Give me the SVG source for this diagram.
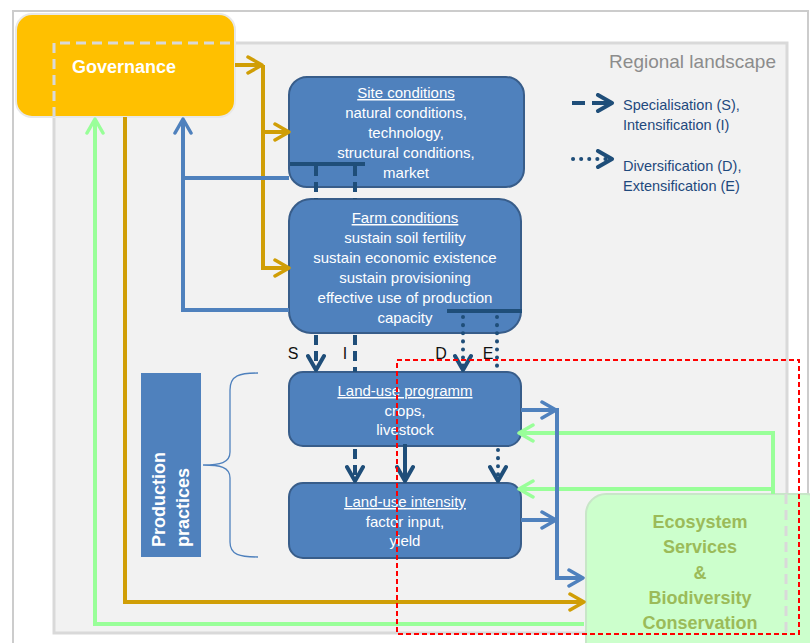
<svg xmlns="http://www.w3.org/2000/svg" width="810" height="643" viewBox="0 0 810 643">
<style>
.gold{stroke:#d09e06;stroke-width:4;fill:none}
.blue{stroke:#4f81bd;stroke-width:4;fill:none}
.green{stroke:#99ff99;stroke-width:4;fill:none}
.navy{stroke:#1f4e79;stroke-width:4;fill:none}
.dash{stroke-dasharray:10 6}
.dot{stroke-dasharray:0.1 8;stroke-linecap:round}
.box{fill:#4f81bd;stroke:#385d8a;stroke-width:2}
.bt{font-family:"Liberation Sans",Arial,sans-serif;font-size:15px;fill:#ffffff;text-anchor:middle}
.u{text-decoration:underline}
.lg{font-family:"Liberation Sans",Arial,sans-serif;font-size:14.5px;fill:#1f497d}
.lab{font-family:"Liberation Sans",Arial,sans-serif;font-size:16px;fill:#111111;text-anchor:middle}
.eco{font-family:"Liberation Sans",Arial,sans-serif;font-size:18px;font-weight:bold;fill:#9bbb59;text-anchor:middle}
.lsd{stroke:#d9d9d9;stroke-width:3;fill:none;stroke-dasharray:10 6}
</style>
<defs>
<marker id="aG" viewBox="0 0 20 20" refX="17" refY="10" markerWidth="20" markerHeight="20" markerUnits="userSpaceOnUse" orient="auto"><path d="M3,2 L17,10 L3,18" fill="none" stroke="#d09e06" stroke-width="3.5" stroke-linecap="round" stroke-linejoin="round"/></marker>
<marker id="aB" viewBox="0 0 20 20" refX="17" refY="10" markerWidth="20" markerHeight="20" markerUnits="userSpaceOnUse" orient="auto"><path d="M3,2 L17,10 L3,18" fill="none" stroke="#4f81bd" stroke-width="3.5" stroke-linecap="round" stroke-linejoin="round"/></marker>
<marker id="aGr" viewBox="0 0 20 20" refX="17" refY="10" markerWidth="20" markerHeight="20" markerUnits="userSpaceOnUse" orient="auto"><path d="M3,2 L17,10 L3,18" fill="none" stroke="#99ff99" stroke-width="3.5" stroke-linecap="round" stroke-linejoin="round"/></marker>
<marker id="aN" viewBox="0 0 20 20" refX="17" refY="10" markerWidth="20" markerHeight="20" markerUnits="userSpaceOnUse" orient="auto"><path d="M3,2 L17,10 L3,18" fill="none" stroke="#1f4e79" stroke-width="4" stroke-linecap="round" stroke-linejoin="round"/></marker>
</defs>
<rect x="0" y="0" width="810" height="643" fill="#ffffff"/>
<rect x="13" y="11" width="795" height="660" fill="#ffffff" stroke="#cccccc" stroke-width="2"/>
<g id="landscape">
<rect x="54" y="43" width="733" height="590" fill="#f2f2f2" stroke="#d9d9d9" stroke-width="3"/>
<text x="776" y="68" font-family="'Liberation Sans',Arial,sans-serif" font-size="19" fill="#8c8c8c" text-anchor="end">Regional landscape</text>
</g>
<g id="governance">
<rect x="16" y="14" width="219" height="103" rx="16" fill="#ffc000" stroke="#e8e8e8" stroke-width="2"/>
<path class="lsd" d="M54,117 V43 H235"/>
<text x="72" y="73" font-family="'Liberation Sans',Arial,sans-serif" font-size="18" font-weight="bold" fill="#ffffff">Governance</text>
</g>
<g id="site">
<rect class="box" x="289" y="77" width="235" height="110" rx="18"/>
<text class="bt u" x="406" y="98">Site conditions</text>
<text class="bt" x="406" y="118">natural conditions,</text>
<text class="bt" x="406" y="138">technology,</text>
<text class="bt" x="406" y="158">structural conditions,</text>
<text class="bt" x="406" y="178">market</text>
</g>
<g id="farm">
<rect class="box" x="289" y="199" width="232" height="134" rx="22"/>
<text class="bt u" x="405" y="223">Farm conditions</text>
<text class="bt" x="405" y="243">sustain soil fertility</text>
<text class="bt" x="405" y="263">sustain economic existence</text>
<text class="bt" x="405" y="283">sustain provisioning</text>
<text class="bt" x="405" y="303">effective use of production</text>
<text class="bt" x="405" y="323">capacity</text>
</g>
<g id="programm">
<rect class="box" x="289" y="372" width="232" height="74" rx="14"/>
<text class="bt u" x="405" y="396">Land-use programm</text>
<text class="bt" x="405" y="416">crops,</text>
<text class="bt" x="405" y="435">livestock</text>
</g>
<g id="intensity">
<rect class="box" x="289" y="483" width="232" height="75" rx="14"/>
<text class="bt u" x="405" y="507">Land-use intensity</text>
<text class="bt" x="405" y="527">factor input,</text>
<text class="bt" x="405" y="546">yield</text>
</g>
<g id="practices">
<rect x="141" y="373" width="60" height="184" fill="#4f81bd"/>
<text transform="translate(165,547) rotate(-90)" font-family="'Liberation Sans',Arial,sans-serif" font-size="18" font-weight="bold" fill="#ffffff">Production</text>
<text transform="translate(189,547) rotate(-90)" font-family="'Liberation Sans',Arial,sans-serif" font-size="18" font-weight="bold" fill="#ffffff">practices</text>
<path d="M258,373 C240,373 230,375 230,390 L230,452 C230,463 220,465 203,465 C220,465 230,467 230,478 L230,542 C230,555 240,557 258,557" fill="none" stroke="#4f81bd" stroke-width="1.3"/>
</g>
<g id="ecosystem">
<rect x="586" y="494" width="240" height="170" rx="20" fill="#ccffcc" stroke="#c8e6c8" stroke-width="2"/>
<path class="lsd" d="M786,494 V633"/>
<text class="eco" x="700" y="528">Ecosystem</text>
<text class="eco" x="700" y="553">Services</text>
<text class="eco" x="700" y="579">&amp;</text>
<text class="eco" x="700" y="604">Biodiversity</text>
<text class="eco" x="700" y="629">Conservation</text>
</g>
<g id="legend">
<path class="navy" d="M572,103 H585"/>
<path class="navy" d="M592,103 H612" marker-end="url(#aN)"/>
<text class="lg" x="623" y="110">Specialisation (S),</text>
<text class="lg" x="623" y="130">Intensification (I)</text>
<path class="navy dot" d="M573,159 H612" marker-end="url(#aN)"/>
<text class="lg" x="623" y="171">Diversification (D),</text>
<text class="lg" x="623" y="191">Extensification (E)</text>
</g>
<g id="connectors">
<path class="gold" d="M235,65 H262" marker-end="url(#aG)"/>
<path class="gold" d="M263,65 V268 H289" marker-end="url(#aG)"/>
<path class="gold" d="M263,132 H289" marker-end="url(#aG)"/>
<path class="gold" d="M125,117 V602 H584" marker-end="url(#aG)"/>
<path class="green" d="M584,624 H95 V119" marker-end="url(#aGr)"/>
<path class="green" d="M773,494 V433 H519" marker-end="url(#aGr)"/>
<path class="green" d="M773,489 H519" marker-end="url(#aGr)"/>
<path class="blue" d="M289,310 H183 V119" marker-end="url(#aB)"/>
<path class="blue" d="M183,178 H289"/>
<path class="blue" d="M521,410 H556" marker-end="url(#aB)"/>
<path class="blue" d="M521,520 H556" marker-end="url(#aB)"/>
<path class="blue" d="M557,408 V578 H583" marker-end="url(#aB)"/>
<path class="navy" d="M290,164 H365" stroke-width="3"/>
<path class="navy dash" d="M316,166 V199"/>
<path class="navy dash" d="M355,166 V199"/>
<path class="navy dash" d="M316,335 V370" marker-end="url(#aN)"/>
<path class="navy dash" d="M355,335 V372"/>
<path class="navy" d="M447,311 H522" stroke-width="3"/>
<path class="navy dot" d="M463,317 V370" marker-end="url(#aN)"/>
<path class="navy dot" d="M497,317 V372"/>
<path class="navy dash" d="M355,449 V481" marker-end="url(#aN)"/>
<path class="navy" d="M405,444 V481" stroke-width="5" marker-end="url(#aN)"/>
<path class="navy dot" d="M498,450 V481" marker-end="url(#aN)"/>
</g>
<g id="labels">
<text class="lab" x="293" y="359">S</text>
<text class="lab" x="345" y="359">I</text>
<text class="lab" x="441" y="359">D</text>
<text class="lab" x="488" y="359">E</text>
</g>
<rect id="focus" x="397" y="360" width="402" height="274" fill="none" stroke="#ff0000" stroke-width="2" stroke-dasharray="5 3"/>
</svg>
